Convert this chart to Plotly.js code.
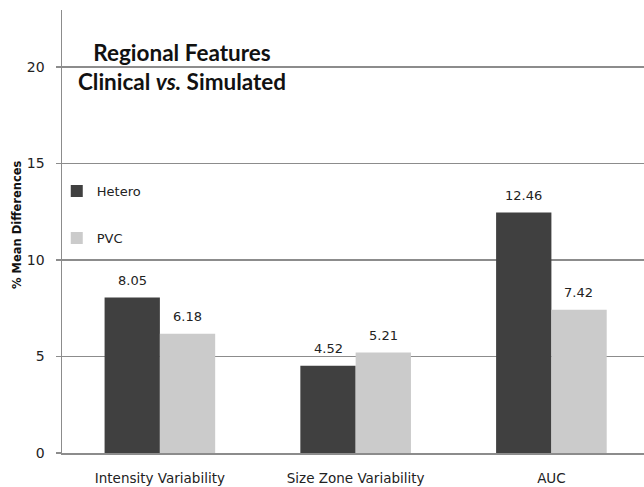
<!DOCTYPE html>
<html>
<head>
<meta charset="utf-8">
<script src="https://cdn.plot.ly/plotly-3.0.1.min.js"></script>
<style>
  html, body { margin: 0; padding: 0; background: #ffffff; }
  #chart { width: 644px; height: 487px; }
</style>
</head>
<body>
<div id="chart"></div>
<script>
// Regional features: % mean differences, clinical vs. simulated
const categories = ["Intensity Variability", "Size Zone Variability", "AUC"];
const heteroValues = [8.05, 4.52, 12.46];
const pvcValues = [6.18, 5.21, 7.42];
const seriesNames = ["Hetero", "PVC"];
const yTickValues = [0, 5, 10, 15, 20];

const darkGrey = "#404040";
const lightGrey = "#cbcbcb";
const lineGrey = "#8c8c8c";
const textFamily = "DejaVu Sans, Verdana, sans-serif";
const tickFont = { family: textFamily, size: 13.5, color: "#222222" };

const traces = [
  {
    type: "bar", name: seriesNames[0], x: categories, y: heteroValues,
    marker: { color: darkGrey }, legendgroup: "a", hoverinfo: "none"
  },
  {
    type: "bar", name: seriesNames[1], x: categories, y: pvcValues,
    marker: { color: lightGrey }, legendgroup: "b", hoverinfo: "none"
  }
];

// value labels above each bar, offset to the bar's slot within its group
const annotations = [];
[heteroValues, pvcValues].forEach((vals, s) => {
  vals.forEach((v, i) => {
    annotations.push({
      x: categories[i], y: v, xref: "x", yref: "y",
      xshift: s === 0 ? -27.5 : 27.5, yshift: 17,
      text: v.toFixed(2), showarrow: false,
      font: { family: textFamily, size: 13, color: "#222222" }
    });
  });
});

// rotated axis title, placed beside the tick labels
annotations.push({
  xref: "paper", yref: "paper",
  x: (17 - 62) / 582, y: (453 - 225) / 443,
  xanchor: "center", yanchor: "middle",
  textangle: -90, showarrow: false,
  text: "<b>% Mean Differences</b>",
  font: { family: textFamily, size: 11.5, color: "#111111" }
});

const layout = {
  width: 644, height: 487,
  margin: { l: 62, r: 0, t: 10, b: 34, pad: 0 },
  paper_bgcolor: "#ffffff", plot_bgcolor: "#ffffff",
  barmode: "group", bargap: 0.435, bargroupgap: 0,
  showlegend: true,
  legend: {
    x: -0.009, xanchor: "left", y: 0.625, yanchor: "top",
    traceorder: "grouped", tracegroupgap: 27,
    font: { family: textFamily, size: 13, color: "#222222" },
    itemwidth: 30, bgcolor: "rgba(0,0,0,0)"
  },
  title: {
    text: "<b>Regional Features<br>Clinical <i>vs.</i> Simulated</b>",
    font: { family: "Lato, 'Open Sans', sans-serif", size: 22.5, color: "#111111" },
    x: (182 - 62) / 582, xanchor: "center", xref: "paper",
    y: 1 - 61 / 487, yanchor: "top"
  },
  xaxis: {
    type: "category", range: [-0.5, 2.473],
    showline: true, linecolor: lineGrey, linewidth: 1.5,
    showgrid: false, zeroline: false, ticks: "",
    tickfont: tickFont, ticklabelstandoff: 12
  },
  yaxis: {
    range: [0, 22.95], tickvals: yTickValues,
    showline: true, linecolor: lineGrey, linewidth: 1.5,
    showgrid: true, gridcolor: lineGrey, gridwidth: 1.5,
    zeroline: false, ticks: "outside", ticklen: 5, tickcolor: lineGrey, tickwidth: 1.5,
    tickfont: { family: textFamily, size: 14, color: "#222222" },
    ticklabelstandoff: 8
  },
  annotations: annotations
};

Plotly.newPlot("chart", traces, layout, { staticPlot: true, displayModeBar: false });
</script>
</body>
</html>
